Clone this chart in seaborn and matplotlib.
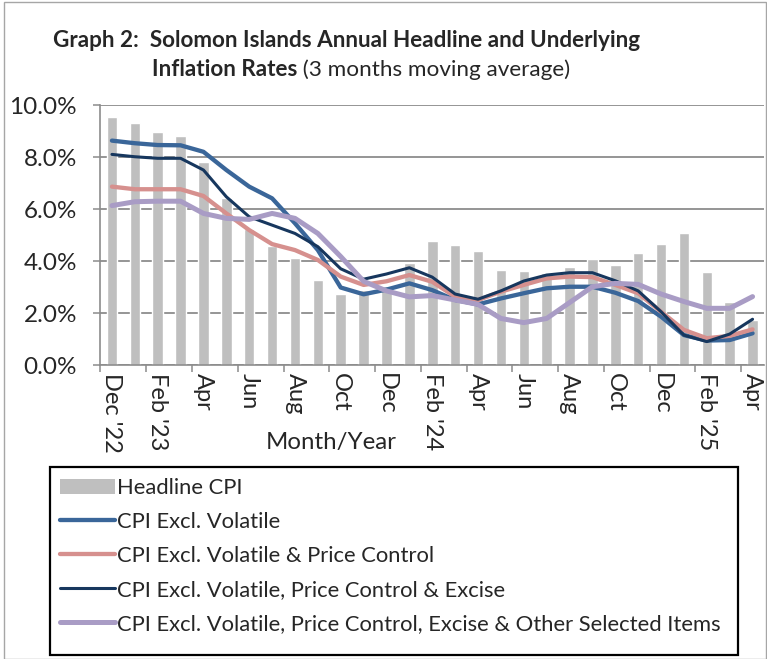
import numpy as np
import pandas as pd
import matplotlib.pyplot as plt
from matplotlib.patches import Patch, Rectangle
from matplotlib.lines import Line2D
from matplotlib.ticker import FixedLocator, FuncFormatter
import seaborn as sns

# monthly series, Dec 2022 .. Apr 2025 (percent)
months = ["Dec22", "Jan23", "Feb23", "Mar23", "Apr23", "May23", "Jun23", "Jul23",
          "Aug23", "Sep23", "Oct23", "Nov23", "Dec23", "Jan24", "Feb24", "Mar24",
          "Apr24", "May24", "Jun24", "Jul24", "Aug24", "Sep24", "Oct24", "Nov24",
          "Dec24", "Jan25", "Feb25", "Mar25", "Apr25"]
tick_labels = ["Dec '22", "Feb '23", "Apr", "Jun", "Aug", "Oct", "Dec", "Feb '24",
               "Apr", "Jun", "Aug", "Oct", "Dec", "Feb '25", "Apr"]

headline = [9.53, 9.29, 8.95, 8.82, 7.80, 6.44, 5.23, 4.58, 4.10, 3.26, 2.74, 2.90,
            3.05, 3.93, 4.78, 4.62, 4.40, 3.65, 3.60, 3.55, 3.76, 4.06, 3.85, 4.31,
            4.67, 5.08, 3.58, 2.44, 1.73]
excl_volatile = [8.63, 8.53, 8.46, 8.45, 8.20, 7.50, 6.86, 6.41, 5.45, 4.42, 2.98, 2.72,
                 2.90, 3.14, 2.88, 2.50, 2.33, 2.56, 2.76, 2.95, 3.01, 3.01, 2.78, 2.46,
                 1.86, 1.15, 0.94, 0.96, 1.22]
excl_price_control = [6.86, 6.76, 6.76, 6.76, 6.50, 5.83, 5.19, 4.65, 4.42, 4.04, 3.40, 3.08,
                      3.22, 3.46, 3.20, 2.63, 2.50, 2.82, 3.08, 3.33, 3.40, 3.38, 3.08, 2.76,
                      2.05, 1.35, 1.03, 1.12, 1.37]
excl_excise = [8.10, 8.01, 7.95, 7.95, 7.50, 6.47, 5.70, 5.38, 5.06, 4.55, 3.70, 3.30,
               3.50, 3.74, 3.38, 2.73, 2.53, 2.85, 3.23, 3.46, 3.55, 3.55, 3.24, 2.85,
               2.05, 1.15, 0.90, 1.19, 1.76]
excl_other = [6.13, 6.28, 6.30, 6.30, 5.83, 5.64, 5.60, 5.83, 5.64, 5.06, 4.17, 3.22,
              2.85, 2.62, 2.67, 2.50, 2.33, 1.79, 1.63, 1.79, 2.40, 3.01, 3.14, 3.10,
              2.73, 2.44, 2.18, 2.18, 2.63]

series_names = ["CPI Excl. Volatile", "CPI Excl. Volatile & Price Control",
                "CPI Excl. Volatile, Price Control & Excise",
                "CPI Excl. Volatile, Price Control, Excise & Other Selected Items"]
series_vals = [excl_volatile, excl_price_control, excl_excise, excl_other]
colors = ["#3A6699", "#D6908E", "#17375E", "#A99CC5"]
widths = [3.1, 3.1, 2.2, 3.6]

sns.set_style("white")
plt.rcParams["font.family"] = ["Lato", "DejaVu Sans"]

idx = np.arange(len(months))
df = pd.DataFrame({"idx": idx, "headline": headline})
for name, vals in zip(series_names, series_vals):
    df[name] = vals

fig = plt.figure(figsize=(7.67, 6.59), dpi=100)
ax = fig.add_axes([100.5 / 767, 1 - 365 / 659, (764 - 100.5) / 767, 260 / 659])

ax.yaxis.grid(True, color="#8c8c8c", linewidth=1.3)
ax.set_axisbelow(True)

sns.barplot(data=df, x="idx", y="headline", native_scale=True, width=0.46,
            color="#BFBFBF", saturation=1, ax=ax, zorder=2)
for name, c, lw in zip(series_names, colors, widths):
    sns.lineplot(data=df, x="idx", y=name, color=c, linewidth=lw, ax=ax, zorder=3)

ax.set_xlim(-0.5, len(months) - 0.5)
ax.set_ylim(0, 10)
ax.set_yticks(np.arange(0, 10.1, 2))
ax.yaxis.set_major_formatter(FuncFormatter(lambda v, p: f"{v:.1f}%"))
ax.tick_params(axis="y", labelsize=17.5, length=5, width=1.1, color="#8c8c8c",
               pad=12, direction="out", left=True)

# tick marks at category boundaries, labels at category centres
ax.xaxis.set_major_locator(FixedLocator(np.arange(-0.5, len(months) - 1, 2)))
ax.xaxis.set_major_formatter(FuncFormatter(lambda v, p: ""))
ax.xaxis.set_minor_locator(FixedLocator(idx[::2]))
ax.set_xticklabels(tick_labels, minor=True, rotation=-90, fontsize=17, va="top")
ax.tick_params(axis="x", which="major", length=5, width=1.1, color="#8c8c8c",
               direction="out", bottom=True)
ax.tick_params(axis="x", which="minor", length=0, pad=6)
ax.set_xlabel("")
ax.set_ylabel("")

for s in ["top", "right"]:
    ax.spines[s].set_visible(False)
for s in ["left", "bottom"]:
    ax.spines[s].set_color("#8c8c8c")
    ax.spines[s].set_linewidth(1.2)

fig.text(331 / 767, 1 - 443 / 659, "Month/Year", ha="center", va="center", fontsize=17.3)

# title
t1 = fig.text(53 / 767, 1 - 47 / 659, "Graph 2:  Solomon Islands Annual Headline and Underlying",
              fontsize=16.2, fontweight="bold", ha="left", va="baseline")
t2 = fig.text(152 / 767, 1 - 80 / 659, "Inflation Rates", fontsize=16.2,
              fontweight="bold", ha="left", va="bottom")
ax.annotate(" (3 months moving average)", xy=(1, 0), xycoords=t2, fontsize=16.2,
            ha="left", va="bottom", annotation_clip=False)

handles = [Patch(facecolor="#BFBFBF", edgecolor="none")]
handles += [Line2D([0], [0], color=c, linewidth=lw, solid_capstyle="round")
            for c, lw in zip(colors, widths)]
leg = fig.legend(handles, ["Headline CPI"] + series_names, loc="upper left",
                 bbox_to_anchor=(50 / 767, 1 - 468 / 659), fontsize=15.8,
                 frameon=False, handlelength=2.5, handletextpad=0.12,
                 labelspacing=0.64, borderpad=0.45, borderaxespad=0)

# legend box and outer chart border
fig.patches.append(Rectangle((50 / 767, 1 - 655 / 659), 688 / 767, 188 / 659,
                             transform=fig.transFigure, fill=False,
                             edgecolor="black", linewidth=1.6))
fig.patches.append(Rectangle((4 / 767, 0.5 / 659), 762 / 767, 657 / 659,
                             transform=fig.transFigure, fill=False,
                             edgecolor="#a6a6a6", linewidth=1.0))

fig.savefig("out.png", dpi=100)
